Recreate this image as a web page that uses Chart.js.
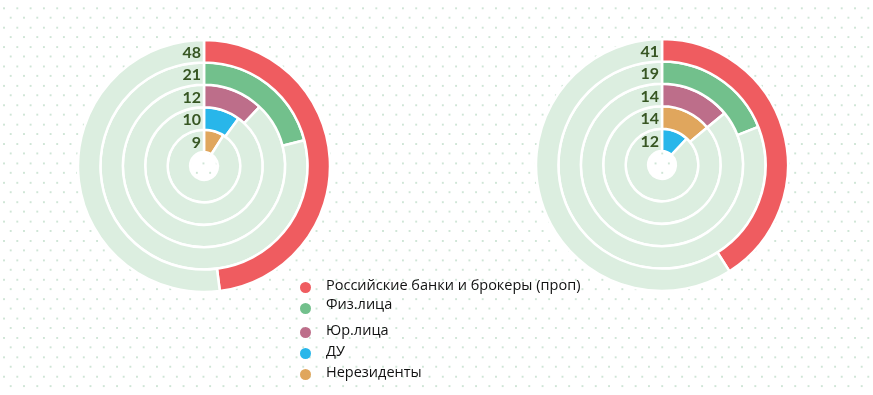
<!DOCTYPE html>
<html>
<head>
<meta charset="utf-8">
<script src="https://cdn.jsdelivr.net/npm/chart.js@4.4.1/dist/chart.umd.min.js"></script>
<style>
    html, body {
        margin: 0;
        padding: 0;
        width: 873px;
        height: 395px;
        overflow: hidden;
        background-color: #ffffff;
        background-image:
            radial-gradient(circle, #cfe5d6 0.9px, transparent 1.3px),
            radial-gradient(circle, #cfe5d6 0.9px, transparent 1.3px);
        background-size: 13.3px 19.4px;
        background-position: -2.65px -1.4px, 4.05px 8px;
    }
    .ring {
        position: absolute;
        width: 256px;
        height: 256px;
    }
    #legend {
        position: absolute;
        left: 300px;
        top: 0;
        font-family: "Open Sans", sans-serif;
        font-size: 14.5px;
        color: #111111;
    }
    .item {
        position: absolute;
        left: 0;
        white-space: nowrap;
    }
    .dot {
        position: absolute;
        left: 0;
        width: 11px;
        height: 11px;
        border-radius: 50%;
    }
    .label {
        position: absolute;
        left: 26px;
        line-height: 18px;
    }
</style>
</head>
<body>
<div class="ring" style="left:76px; top:38px;"><canvas id="left" width="256" height="256"></canvas></div>
<div class="ring" style="left:534px; top:37px;"><canvas id="right" width="256" height="256"></canvas></div>
<div id="legend"></div>

<script>
// Kategorien und Farben (Legendenreihenfolge)
const categories = ['Российские банки и брокеры (проп)', 'Физ.лица', 'Юр.лица', 'ДУ', 'Нерезиденты'];
const categoryColors = ['#ef5c60', '#72c08c', '#bd6e8a', '#28b6ea', '#e0a65d'];

// Linker Ring: von aussen nach innen
const leftOrder = [0, 1, 2, 3, 4];
const leftValues = [48, 21, 12, 10, 9];

// Rechter Ring: von aussen nach innen
const rightOrder = [0, 1, 2, 4, 3];
const rightValues = [41, 19, 14, 14, 12];

const total = 100;
const trackColor = '#dceee0';

// Zahlen links neben dem Start jedes Rings
const valueLabels = {
    id: 'valueLabels',
    afterDatasetsDraw(chart) {
        const ctx = chart.ctx;
        ctx.save();
        ctx.font = 'bold 16px Lato, sans-serif';
        ctx.fillStyle = '#375623';
        ctx.textAlign = 'right';
        ctx.textBaseline = 'middle';
        chart.data.datasets.forEach((ds, i) => {
            const arc = chart.getDatasetMeta(i).data[0];
            const r = (arc.innerRadius + arc.outerRadius) / 2;
            ctx.fillText(ds.data[0], arc.x - 3, arc.y - r + 1.5);
        });
        ctx.restore();
    }
};

function buildChart(id, values, order) {
    const datasets = values.map((v, i) => ({
        data: [v, total - v],
        backgroundColor: [categoryColors[order[i]], trackColor],
        borderColor: '#ffffff',
        borderWidth: 2.5,
        hoverOffset: 0
    }));

    return new Chart(document.getElementById(id), {
        type: 'doughnut',
        data: { labels: [categories[0], ''], datasets: datasets },
        options: {
            responsive: false,
            animation: false,
            radius: 126,
            cutout: 14,
            layout: { padding: 0 },
            plugins: {
                legend: { display: false },
                tooltip: { enabled: false }
            }
        },
        plugins: [valueLabels]
    });
}

buildChart('left', leftValues, leftOrder);
buildChart('right', rightValues, rightOrder);

// Legende (unregelmaessige Zeilenabstaende wie im Original)
const legendRows = [287, 308, 332, 353, 374];
const legend = document.getElementById('legend');
categories.forEach((name, i) => {
    const item = document.createElement('div');
    item.className = 'item';
    item.style.top = legendRows[i] + 'px';
    item.innerHTML = '<span class="dot" style="top:-5.5px; background:' + categoryColors[i] + '"></span>' +
        '<span class="label" style="top:' + (i === 1 ? -13 : -11) + 'px">' + name + '</span>';
    legend.appendChild(item);
});
</script>
</body>
</html>
